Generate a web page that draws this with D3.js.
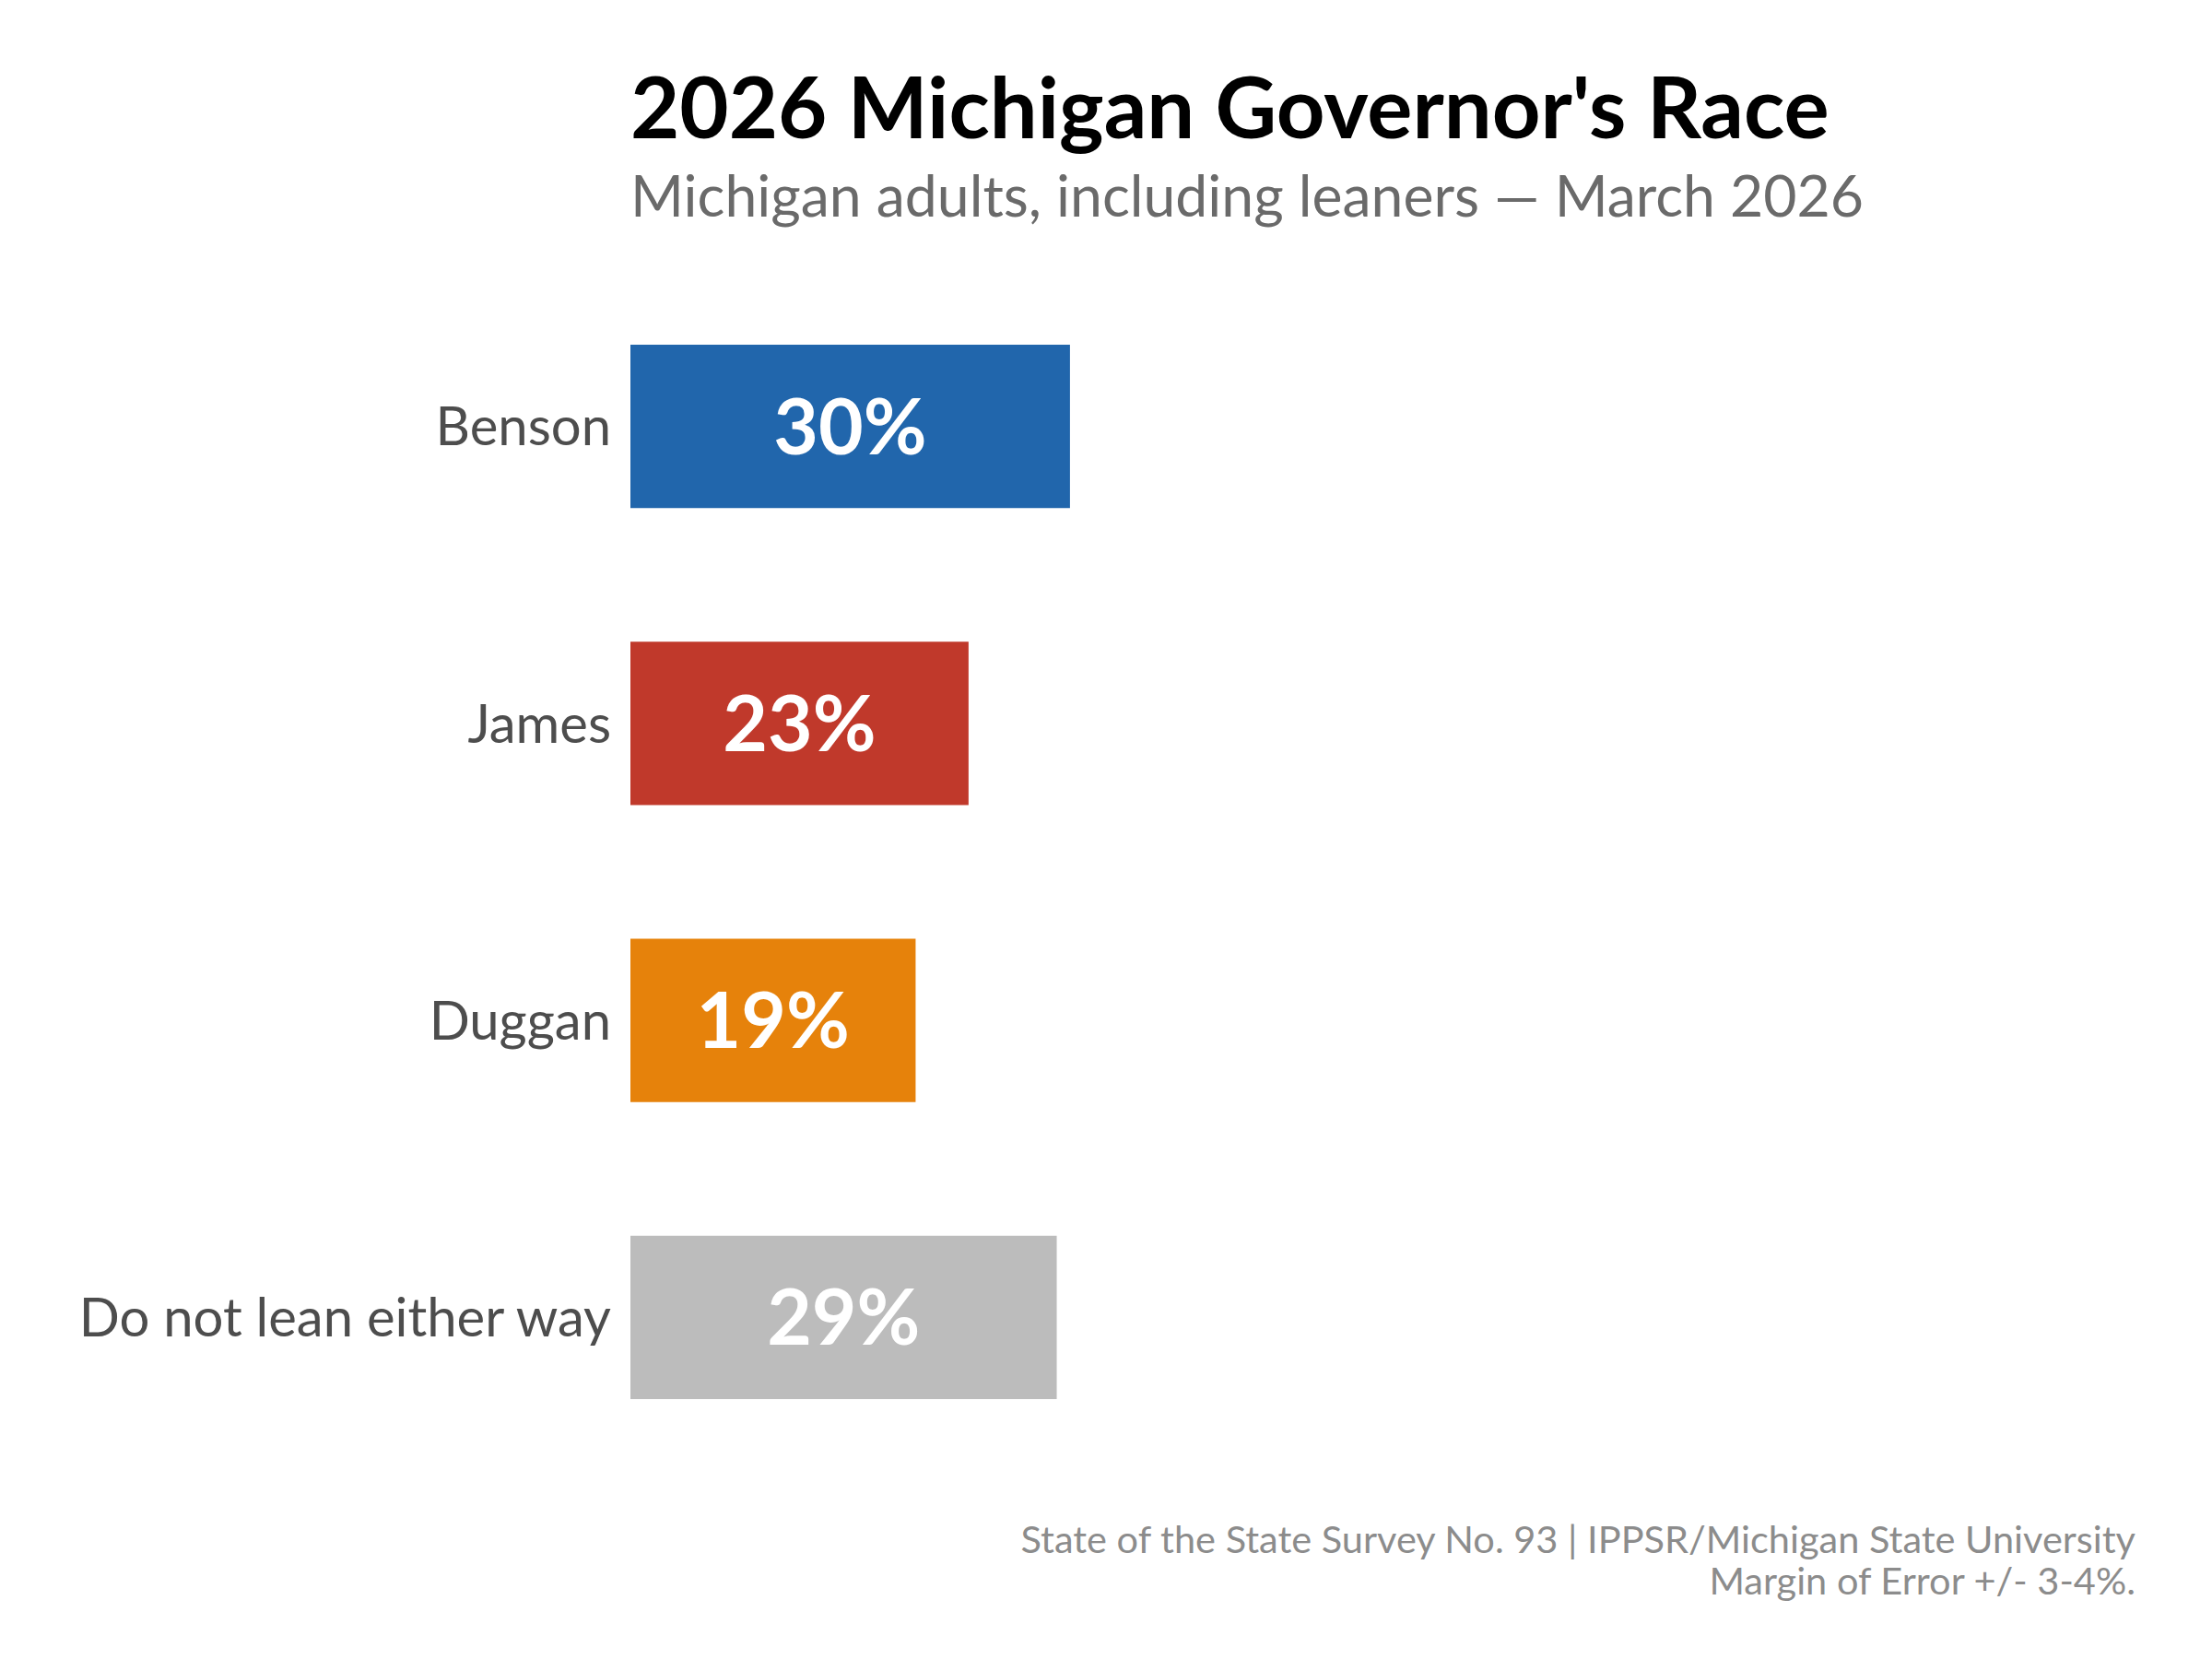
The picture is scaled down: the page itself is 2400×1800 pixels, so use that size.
<!DOCTYPE html>
<html>
<head>
<meta charset="utf-8">
<script src="https://cdn.jsdelivr.net/npm/d3@7"></script>
<style>
  body { margin: 0; background: #fff; }
  svg { display: block; font-family: Lato, "Open Sans", sans-serif; }
</style>
</head>
<body>
<svg id="chart" width="2400" height="1800"></svg>
<script>
// poll results, percent of Michigan adults
const candidates = ["Benson", "James", "Duggan", "Do not lean either way"];
const shares = [29.9, 23.0, 19.4, 29.0];
const barColors = ["#2166ac", "#c0392b", "#e6820b", "#bcbcbc"];

const titleText = "2026 Michigan Governor's Race";
const subtitleText = "Michigan adults, including leaners \u2014 March 2026";
const sourceLines = [
  "State of the State Survey No. 93 | IPPSR/Michigan State University",
  "Margin of Error +/- 3-4%."
];

const svg = d3.select("#chart"),
    width = +svg.attr("width"),
    height = +svg.attr("height");

const rows = candidates.map((c, i) => ({ name: c, value: shares[i], color: barColors[i] }));

const x = d3.scaleLinear()
    .domain([0, 100])
    .range([684, 684 + 1595]);

const y = d3.scaleBand()
    .domain(candidates)
    .range([229, 1663])
    .padding(0.45);

// title block
svg.append("text")
    .attr("x", 684)
    .attr("y", 150)
    .attr("font-size", 92)
    .attr("font-weight", 700)
    .attr("fill", "#000")
    .text(titleText);

svg.append("text")
    .attr("x", 684)
    .attr("y", 235)
    .attr("font-size", 62.5)
    .attr("fill", "#6a6a6a")
    .text(subtitleText);

// bars
svg.selectAll("rect.bar")
  .data(rows)
  .enter().append("rect")
    .attr("class", "bar")
    .attr("x", x(0))
    .attr("y", d => y(d.name))
    .attr("width", d => x(d.value) - x(0))
    .attr("height", y.bandwidth())
    .attr("fill", d => d.color);

// category labels on the left
const labelSize = 58;
svg.selectAll("text.cat")
  .data(rows)
  .enter().append("text")
    .attr("class", "cat")
    .attr("x", x(0) - 21)
    .attr("y", d => y(d.name) + y.bandwidth() / 2 + labelSize * 0.358)
    .attr("text-anchor", "end")
    .attr("font-size", labelSize)
    .attr("fill", "#4d4d4d")
    .text(d => d.name);

// value labels inside bars
const valueSize = 84;
svg.selectAll("text.val")
  .data(rows)
  .enter().append("text")
    .attr("class", "val")
    .attr("x", d => (x(0) + x(d.value)) / 2)
    .attr("y", d => y(d.name) + y.bandwidth() / 2 + valueSize * 0.358)
    .attr("text-anchor", "middle")
    .attr("font-size", valueSize)
    .attr("font-weight", 700)
    .attr("fill", "#fff")
    .text(d => Math.round(d.value) + "%");

// source note
svg.selectAll("text.src")
  .data(sourceLines)
  .enter().append("text")
    .attr("class", "src")
    .attr("x", 2317)
    .attr("y", (d, i) => 1685 + i * 45)
    .attr("text-anchor", "end")
    .attr("font-size", 41.5)
    .attr("fill", "#8c8c8c")
    .text(d => d);
</script>
</body>
</html>
